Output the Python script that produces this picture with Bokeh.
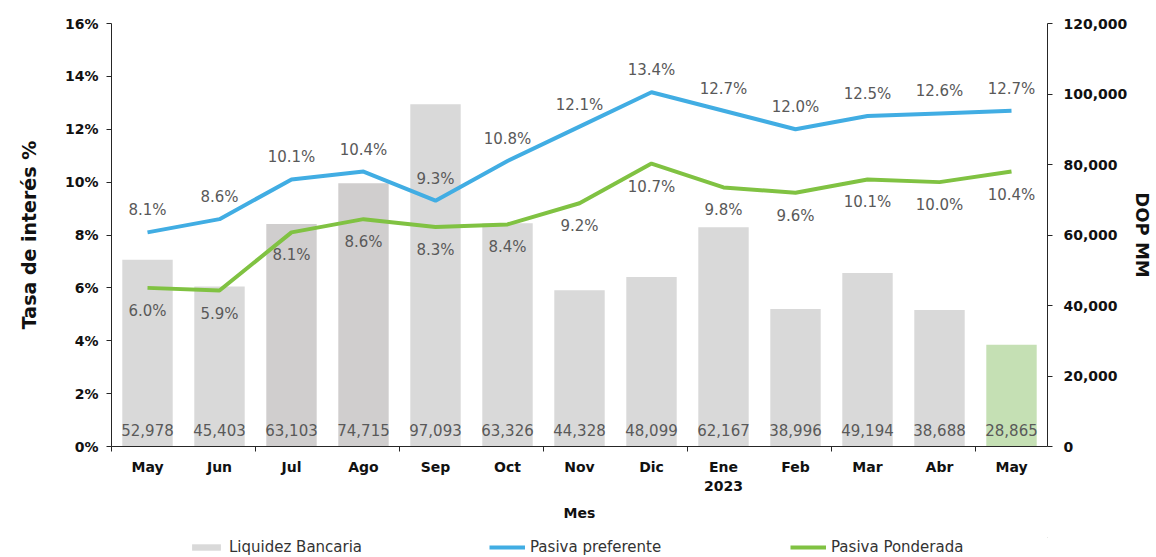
from bokeh.plotting import figure
from bokeh.models import (ColumnDataSource, Range1d, LinearAxis, FixedTicker, LabelSet,
                          Legend, LegendItem, NumeralTickFormatter)
from bokeh.layouts import column
from bokeh.core.properties import value
from bokeh.embed import file_html
from bokeh.resources import INLINE

months = ["May", "Jun", "Jul", "Ago", "Sep", "Oct", "Nov", "Dic", "Ene\n2023", "Feb", "Mar", "Abr", "May"]
liquidez = [52978, 45403, 63103, 74715, 97093, 63326, 44328, 48099, 62167, 38996, 49194, 38688, 28865]
preferente = [8.1, 8.6, 10.1, 10.4, 9.3, 10.8, 12.1, 13.4, 12.7, 12.0, 12.5, 12.6, 12.7]
ponderada = [6.0, 5.9, 8.1, 8.6, 8.3, 8.4, 9.2, 10.7, 9.8, 9.6, 10.1, 10.0, 10.4]
left_ticks = [0, 2, 4, 6, 8, 10, 12, 14, 16]
right_ticks = [0, 20000, 40000, 60000, 80000, 100000, 120000]
series_names = ["Liquidez Bancaria", "Pasiva preferente", "Pasiva Ponderada"]

FONT = "DejaVu Sans"
n = len(months)
xs = [i + 0.5 for i in range(n)]
bar_colors = ["#d9d9d9"] * n
bar_colors[2] = "#d0cece"
bar_colors[3] = "#d0cece"
bar_colors[-1] = "#c5e0b4"
BLUE = "#41ade3"
GREEN = "#80c242"

src = ColumnDataSource(dict(
    x=xs, liq=liquidez, pref=preferente, pond=ponderada, color=bar_colors,
    liq_lbl=[f"{v:,}" for v in liquidez],
    pref_lbl=[f"{v:.1f}%" for v in preferente],
    pond_lbl=[f"{v:.1f}%" for v in ponderada],
    zero=[0] * n,
))

p = figure(frame_width=936, frame_height=423, x_range=Range1d(0, n), y_range=Range1d(0, 16),
           output_backend="svg", toolbar_location=None,
           min_border_left=111, min_border_right=109, min_border_top=23, min_border_bottom=91,
           outline_line_color=None, background_fill_color="white", border_fill_color="white")
p.grid.visible = False
p.extra_y_ranges = {"right": Range1d(0, 120000)}

bars = p.vbar(x="x", top="liq", width=0.7, bottom=0, source=src, fill_color="color",
              line_color=None, y_range_name="right")
l1 = p.line("x", "pref", source=src, line_color=BLUE, line_width=4)
l2 = p.line("x", "pond", source=src, line_color=GREEN, line_width=4)

# Axes
axis_color = "#262626"
xa = p.xaxis[0]
xa.ticker = FixedTicker(ticks=xs, minor_ticks=[0, 2, 4, 6, 8, 10, 12])
xa.major_label_overrides = {x: m for x, m in zip(xs, months)}
xa.major_tick_out = 0
xa.major_tick_in = 0
xa.minor_tick_out = 5
xa.minor_tick_in = 0
xa.minor_tick_line_color = axis_color
xa.axis_line_color = axis_color
xa.major_label_text_font = FONT
xa.major_label_text_font_style = "bold"
xa.major_label_text_font_size = "14px"
xa.major_label_text_color = "#111111"
xa.major_label_standoff = 7
xa.axis_label = "Mes"
xa.axis_label_text_font = FONT
xa.axis_label_text_font_style = "bold"
xa.axis_label_text_font_size = "14px"
xa.axis_label_text_color = "#111111"
xa.axis_label_standoff = 8

ya = p.yaxis[0]
ya.ticker = FixedTicker(ticks=left_ticks)
ya.major_label_overrides = {t: f"{t}%" for t in left_ticks}
ya.minor_tick_out = 0
ya.minor_tick_in = 0
ya.major_tick_out = 5
ya.major_tick_in = 0
ya.major_tick_line_color = axis_color
ya.axis_line_color = axis_color
ya.major_label_text_font = FONT
ya.major_label_text_font_style = "bold"
ya.major_label_text_font_size = "14px"
ya.major_label_text_color = "#111111"
ya.major_label_standoff = 8
ya.axis_label = "Tasa de interés %"
ya.axis_label_text_font = FONT
ya.axis_label_text_font_style = "bold"
ya.axis_label_text_font_size = "19px"
ya.axis_label_text_color = "#111111"
ya.axis_label_standoff = 22

ra = LinearAxis(y_range_name="right", ticker=FixedTicker(ticks=right_ticks),
                formatter=NumeralTickFormatter(format="0,0"))
ra.minor_tick_out = 0
ra.minor_tick_in = 0
ra.major_tick_out = 5
ra.major_tick_in = 0
ra.major_tick_line_color = axis_color
ra.axis_line_color = axis_color
ra.major_label_text_font = FONT
ra.major_label_text_font_style = "bold"
ra.major_label_text_font_size = "14px"
ra.major_label_text_color = "#111111"
ra.major_label_standoff = 11
ra.axis_label = "DOP MM"
ra.axis_label_text_font = FONT
ra.axis_label_text_font_style = "bold"
ra.axis_label_text_font_size = "18px"
ra.axis_label_text_color = "#111111"
ra.axis_label_standoff = 2
p.add_layout(ra, "right")

# Data labels
lbl_kw = dict(source=src, text_font=value(FONT), text_font_size=value("15px"),
              text_color=value("#595959"), text_align=value("center"),
              text_baseline=value("middle"))
p.add_layout(LabelSet(x="x", y="zero", text="liq_lbl", y_offset=17, y_range_name="right", **lbl_kw))
p.add_layout(LabelSet(x="x", y="pref", text="pref_lbl", y_offset=22, **lbl_kw))
p.add_layout(LabelSet(x="x", y="pond", text="pond_lbl", y_offset=-23, **lbl_kw))

# Legend strip (separate small figure below the chart; its ranges keep the
# series themselves out of view, only the legend is shown)
lg = figure(width=1156, height=20, x_range=Range1d(-100, -99), y_range=Range1d(-100, -99),
            output_backend="svg", toolbar_location=None,
            x_axis_location=None, y_axis_location=None,
            min_border_left=0, min_border_right=0, min_border_top=0, min_border_bottom=0,
            outline_line_color=None, background_fill_color="white", border_fill_color="white")
lg.grid.visible = False
gb = lg.vbar(x="x", top="liq", width=0.7, source=src, fill_color="color", line_color=None)
gl1 = lg.line("x", "pref", source=src, line_color=BLUE, line_width=4)
gl2 = lg.line("x", "pond", source=src, line_color=GREEN, line_width=4)
legend = Legend(items=[
    LegendItem(label=series_names[0], renderers=[gb], index=0),
    LegendItem(label=series_names[1], renderers=[gl1]),
    LegendItem(label=series_names[2], renderers=[gl2]),
], orientation="horizontal", location=(77, 1), padding=0, margin=0, spacing=8,
    glyph_width=36, glyph_height=8, label_standoff=5, label_width=252,
    label_text_font=FONT, label_text_font_size="15px", label_text_color="#333333",
    border_line_color=None, background_fill_alpha=0)
lg.add_layout(legend, "center")

layout = column(p, lg, spacing=0)
open("out.html", "w").write(file_html(layout, INLINE))
